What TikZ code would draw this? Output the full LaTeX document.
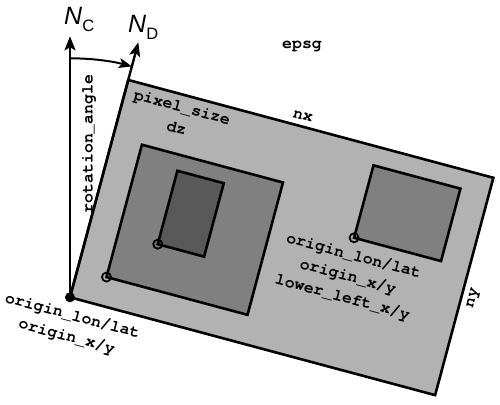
\documentclass[tikz,border=0pt]{standalone}
\usepackage{fontspec}
\setmonofont{TeX Gyre Cursor}
\newfontfamily\nsans{Liberation Sans}
\usetikzlibrary{arrows.meta}
\definecolor{gLarge}{gray}{0.70}
\definecolor{gMid}{gray}{0.50}
\definecolor{gDark}{gray}{0.35}
\tikzset{
  box/.style={draw=black, line width=2.6pt, line join=miter},
  axis/.style={draw=black, line width=2.4pt, -{Stealth[length=14pt,width=11pt,inset=3pt]}},
  anglearc/.style={draw=black, line width=2pt, -{Stealth[length=13pt,width=10pt,inset=3pt]}},
  corner/.style={draw=black, line width=1.8pt, circle, inner sep=0pt, minimum size=9pt},
  lbl/.style={font=\fontsize{16.5}{21.5}\selectfont\ttfamily\bfseries, align=center, inner sep=0pt},
  nlbl/.style={font=\nsans\fontsize{25}{25}\selectfont, inner sep=0pt, anchor=base west}
}
\begin{document}
\begin{tikzpicture}[x=1pt,y=1pt]
\useasboundingbox (0,0) rectangle (500,404);
\coordinate (O) at (70,106.7);
\begin{scope}[shift={(O)}, rotate=-15]
  \path[box, fill=gLarge] (0,0) coordinate (LL) rectangle (378,225) coordinate (LUR);
  \path[box, fill=gMid] (30,29) coordinate (M0) rectangle (176,166);
  \path[box, fill=gDark] (71,74) coordinate (S0) rectangle (119,150);
  \path[box, fill=gMid] (259,131) coordinate (R0) rectangle (349,206);
  \node[corner] (cm) at (M0) {};
  \node[corner] (cs) at (S0) {};
  \node[corner] (cr) at (R0) {};
\end{scope}
\coordinate (NCtip) at ([shift={(90:261)}]O);
\coordinate (NDtip) at ([shift={(75:264)}]O);
\coordinate (arcstart) at ([shift={(90:239)}]O);
\draw[axis] (O) -- (NCtip);
\draw[axis] (O) -- (NDtip);
\draw[anglearc] (arcstart) arc[start angle=90, end angle=75, radius=239];
\fill[black] (O) circle[radius=5];
\node[nlbl] (NC) at (64,379) {\itshape N\raisebox{-6.5pt}{\upshape\fontsize{16.5}{16.5}\selectfont C}};
\node[nlbl] (ND) at (128,371) {\itshape N\raisebox{-6.5pt}{\upshape\fontsize{16.5}{16.5}\selectfont D}};
\node[lbl] (epsg) at (302,358) {epsg};
\node[lbl, rotate=-15] (px) at (179.5,286.5) {pixel\_size\\dz};
\node[lbl, rotate=-15] (nx) at (303,288) {nx};
\node[lbl, rotate=75] (ny) at (473.5,106) {ny};
\node[lbl, rotate=90] (rot) at (89,260) {rotation\_angle};
\node[lbl, rotate=-15] (orig) at (69.5,77.5) {origin\_lon/lat\\origin\_x/y};
\node[lbl, rotate=-15] (origR) at (348,127) {origin\_lon/lat\\origin\_x/y\\lower\_left\_x/y};
\end{tikzpicture}
\end{document}
